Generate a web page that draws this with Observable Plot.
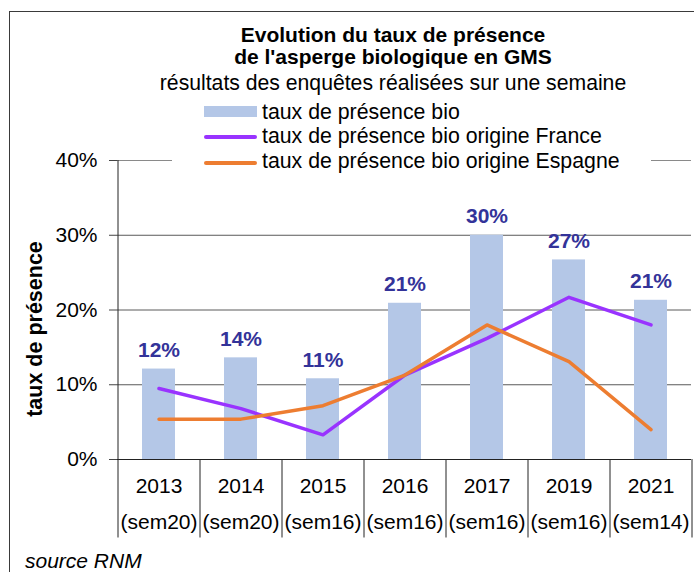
<!DOCTYPE html>
<html>
<head>
<meta charset="utf-8">
<script src="https://cdn.jsdelivr.net/npm/d3@7"></script>
<script src="https://cdn.jsdelivr.net/npm/@observablehq/plot@0.6"></script>
<style>
  html, body { margin: 0; padding: 0; background: #fff; }
  #wrap { position: relative; width: 694px; height: 572px; overflow: hidden; background: #fff;
          font-family: "Liberation Sans", Arial, sans-serif; color: #000; }
  #chart { position: absolute; left: 0; top: 0; }
  .abs { position: absolute; white-space: nowrap; }
  .border { position: absolute; left: 9px; top: 11px; width: 800px; height: 800px;
            border-left: 1.5px solid #3a3a3a; border-top: 1.5px solid #3a3a3a; }
  .title { left: 93px; width: 600px; text-align: center; font-weight: bold; font-size: 21px; line-height: 22px; }
  .subtitle { left: 93px; width: 600px; text-align: center; font-size: 21.2px; line-height: 24px; }
  .legbox { position: absolute; left: 172px; top: 96px; width: 479px; height: 78px; background: #fff; }
  .legtxt { left: 262px; font-size: 21.3px; line-height: 24px; }
  .sw { position: absolute; left: 204px; width: 53px; }
  .ylab { left: 35px; top: 329px; font-weight: bold; font-size: 21.5px; line-height: 24px;
          transform: translate(-50%, -50%) rotate(-90deg); }
  .caption { left: 25px; top: 549px; font-style: italic; font-size: 21px; line-height: 24px; }
</style>
</head>
<body>
<div id="wrap">
  <div id="chart"></div>
  <div class="border"></div>
  <div class="abs title" style="top:24px">Evolution du taux de présence</div>
  <div class="abs title" style="top:46px">de l'asperge biologique en GMS</div>
  <div class="abs subtitle" style="top:71px">résultats des enquêtes réalisées sur une semaine</div>
  <div class="legbox"></div>
  <div class="sw" style="top:106px;height:11px;background:#B4C7E7"></div>
  <div class="sw" style="top:135px;height:3.5px;background:#9933FF;border-radius:2px"></div>
  <div class="sw" style="top:161px;height:3.5px;background:#ED7D31;border-radius:2px"></div>
  <div class="abs legtxt" style="top:100px">taux de présence bio</div>
  <div class="abs legtxt" style="top:124px">taux de présence bio origine France</div>
  <div class="abs legtxt" style="top:149px">taux de présence bio origine Espagne</div>
  <div class="abs ylab">taux de présence</div>
  <div class="abs caption">source RNM</div>
</div>
<script>
// ---- data ----
const years  = ["2013", "2014", "2015", "2016", "2017", "2019", "2021"];
const weeks  = ["sem20", "sem20", "sem16", "sem16", "sem16", "sem16", "sem14"];
const bio    = [0.121, 0.136, 0.108, 0.209, 0.300, 0.267, 0.213];
const france = [0.095, 0.068, 0.033, 0.113, 0.162, 0.217, 0.180];
const spain  = [0.054, 0.054, 0.072, 0.113, 0.180, 0.131, 0.040];
const yTicks = [0, 0.1, 0.2, 0.3, 0.4];

const table = years.map((y, i) => ({year: y, week: weeks[i], bio: bio[i], france: france[i], spain: spain[i]}));
const weekOf = new Map(years.map((y, i) => [y, weeks[i]]));

const W = 694, H = 572, mL = 117, mR = 3, mT = 160, mB = 113;
const step = (W - mL - mR) / years.length;
const pct = d3.format(".0%");

const chart = Plot.plot({
  width: W, height: H,
  marginLeft: mL, marginRight: mR, marginTop: mT, marginBottom: mB,
  style: {fontFamily: '"Liberation Sans", Arial, sans-serif', color: "#000", background: "transparent"},
  x: {domain: years, paddingInner: 0.6, paddingOuter: 0.3, axis: null},
  y: {domain: [0, 0.4], axis: null},
  marks: [
    Plot.gridY(yTicks.filter(d => d > 0 && d < 0.4), {stroke: "#5a5a5a", strokeOpacity: 1}),
    Plot.gridY([0.4], {stroke: "#8a8a8a", strokeOpacity: 1}),
    Plot.barY(table, {x: "year", y: "bio", fill: "#B4C7E7"}),
    Plot.ruleY([0], {stroke: "#222"}),
    // category separators below the axis, first one doubles as the y axis line
    Plot.ruleX(table, {x: "year", dx: -step / 2, y1: -0.105, y2: d => d.year === years[0] ? 0.4 : 0, stroke: "#222"}),
    Plot.ruleX([table[table.length - 1]], {x: "year", dx: step / 2, y1: -0.105, y2: 0, stroke: "#222"}),
    Plot.axisY({ticks: yTicks, tickFormat: pct, tickSize: 8, tickPadding: 12, fontSize: 21, stroke: "#444", label: null}),
    Plot.axisX({tickSize: 0, tickPadding: 8, fontSize: 21, lineHeight: 1.72,
                tickFormat: d => `${d}\n(${weekOf.get(d)})`, label: null}),
    Plot.line(table, {x: "year", y: "france", stroke: "#9933FF", strokeWidth: 3.5}),
    Plot.line(table, {x: "year", y: "spain", stroke: "#ED7D31", strokeWidth: 3.5}),
    Plot.text(table, {x: "year", y: "bio", text: d => pct(d.bio), lineAnchor: "bottom", dy: -12,
                      fontSize: 21, fontWeight: "bold", fill: "#333399"})
  ]
});
document.getElementById("chart").appendChild(chart);
</script>
</body>
</html>
